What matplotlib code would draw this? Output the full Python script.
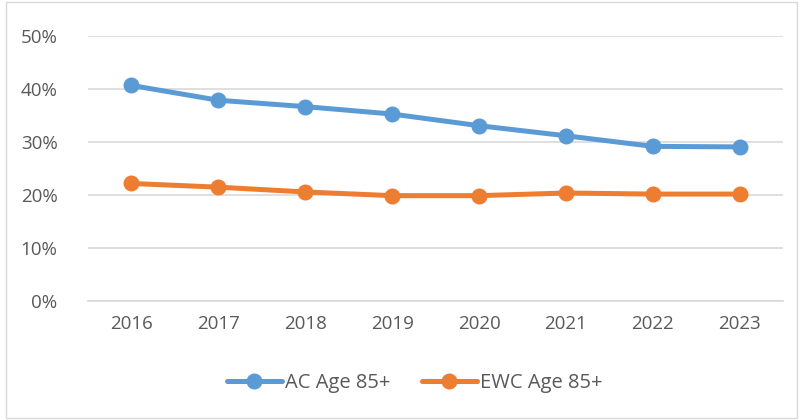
import matplotlib.pyplot as plt
from matplotlib.ticker import PercentFormatter
from matplotlib.patches import Rectangle

years = ["2016", "2017", "2018", "2019", "2020", "2021", "2022", "2023"]
ac_85 = [40.7, 37.9, 36.7, 35.3, 33.1, 31.2, 29.2, 29.1]
ewc_85 = [22.2, 21.5, 20.6, 19.9, 19.9, 20.4, 20.2, 20.2]

plt.rcParams['font.family'] = ['Open Sans', 'DejaVu Sans']
text_col = "#595959"

fig = plt.figure(figsize=(8, 4.2), dpi=100)
ax = fig.add_axes([0.11, 0.283, 0.869, 0.631])

x = range(len(years))
ax.plot(x, [v / 100 for v in ac_85], color="#5B9BD5", lw=3.6, marker="o",
        markersize=10.5, label="AC Age 85+", solid_capstyle="round")
ax.plot(x, [v / 100 for v in ewc_85], color="#ED7D31", lw=3.6, marker="o",
        markersize=10.5, label="EWC Age 85+", solid_capstyle="round")

ax.set_xlim(-0.5, len(years) - 0.5)
ax.set_ylim(0, 0.5)
ax.set_xticks(list(x))
ax.set_xticklabels(years)
ax.set_yticks([0, 0.1, 0.2, 0.3, 0.4, 0.5])
ax.yaxis.set_major_formatter(PercentFormatter(1.0, decimals=0))
ax.grid(axis="y", color="#D9D9D9", lw=1.2)
ax.set_axisbelow(True)
for s in ["top", "right", "left"]:
    ax.spines[s].set_visible(False)
ax.spines["bottom"].set_color("#D9D9D9")
ax.spines["bottom"].set_linewidth(1.2)
ax.tick_params(length=0, labelsize=13.5, colors=text_col, pad=10)
ax.tick_params(axis="y", pad=22)

leg = ax.legend(loc="center", bbox_to_anchor=(0.47, -0.31), ncol=2, frameon=False,
                fontsize=14.5, handlelength=2.7, columnspacing=1.6, handletextpad=0.15)
for t in leg.get_texts():
    t.set_color(text_col)

fig.patches.append(Rectangle((0.008, 0.005), 0.988, 0.99, transform=fig.transFigure,
                             fill=False, edgecolor="#D9D9D9", lw=1))

fig.savefig("out.png", dpi=100)
